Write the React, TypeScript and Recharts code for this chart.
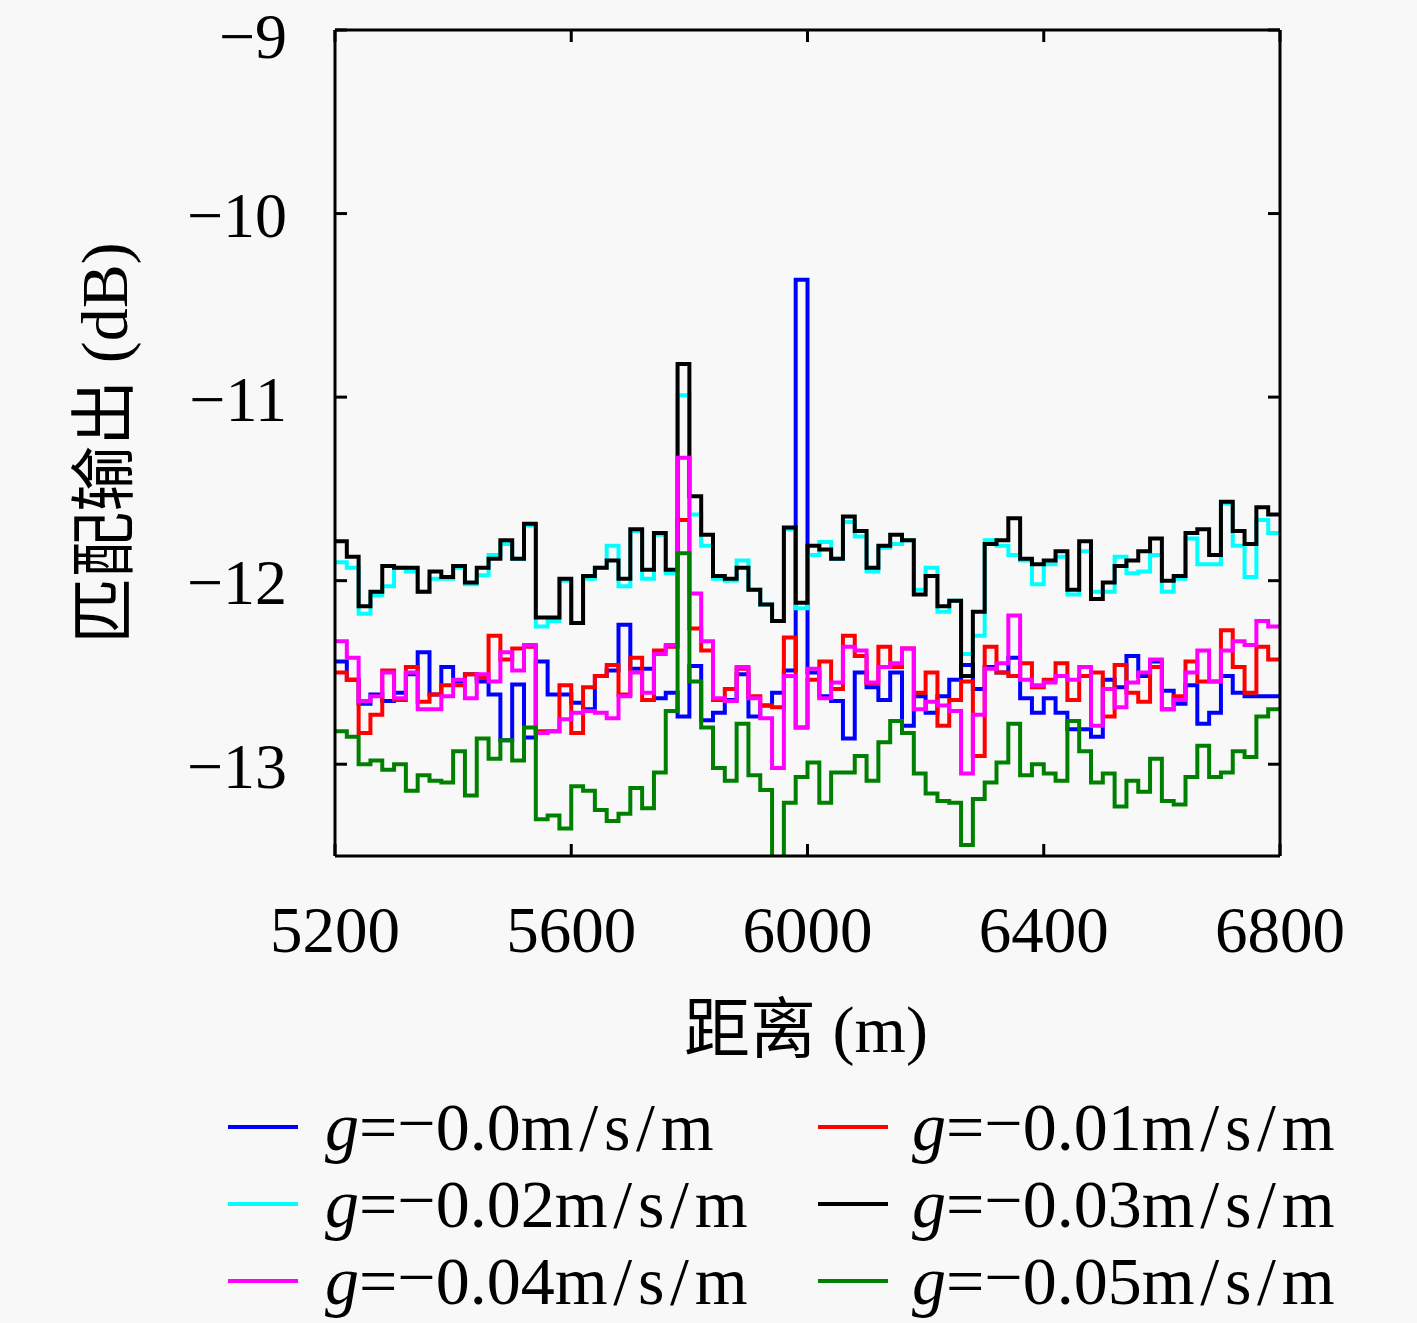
import { LineChart, Line, XAxis, YAxis } from "recharts";

// distance grid (m), one value per 20 m step
const DIST = [
  5200, 5220, 5240, 5260, 5280, 5300, 5320, 5340, 5360, 5380, 5400, 5420, 5440, 5460, 5480, 5500, 5520,
  5540, 5560, 5580, 5600, 5620, 5640, 5660, 5680, 5700, 5720, 5740, 5760, 5780, 5800, 5820, 5840, 5860,
  5880, 5900, 5920, 5940, 5960, 5980, 6000, 6020, 6040, 6060, 6080, 6100, 6120, 6140, 6160, 6180, 6200,
  6220, 6240, 6260, 6280, 6300, 6320, 6340, 6360, 6380, 6400, 6420, 6440, 6460, 6480, 6500, 6520, 6540,
  6560, 6580, 6600, 6620, 6640, 6660, 6680, 6700, 6720, 6740, 6760, 6780, 6800,
];

const G000 = [
  -12.44, -12.54, -12.67, -12.62, -12.655, -12.61, -12.51, -12.39, -12.62, -12.47, -12.55, -12.51, -12.55,
  -12.62, -12.87, -12.565, -12.855, -12.44, -12.62, -12.62, -12.665, -12.7, -12.52, -12.49, -12.24, -12.48,
  -12.48, -12.64, -12.61, -12.74, -12.465, -12.76, -12.72, -12.65, -12.51, -12.74, -12.68, -12.61, -12.49,
  -10.36, -12.5, -12.63, -12.655, -12.86, -12.5, -12.58, -12.65, -12.5, -12.79, -12.63, -12.72, -12.63,
  -12.54, -12.46, -12.59, -12.47, -12.5, -12.42, -12.64, -12.72, -12.64, -12.72, -12.81, -12.81, -12.85,
  -12.54, -12.58, -12.41, -12.52, -12.44, -12.6, -12.67, -12.57, -12.78, -12.72, -12.52, -12.61, -12.63,
  -12.63, -12.63, -12.63,
];

const G001 = [
  -12.5, -12.54, -12.83, -12.73, -12.49, -12.65, -12.47, -12.66, -12.62, -12.57, -12.57, -12.51, -12.53,
  -12.3, -12.43, -12.37, -12.36, -12.82, -12.82, -12.57, -12.83, -12.58, -12.52, -12.46, -12.62, -12.42,
  -12.65, -12.38, -12.36, -11.67, -12.26, -12.38, -12.65, -12.59, -12.48, -12.63, -12.68, -12.69, -12.31,
  -12.8, -12.54, -12.44, -12.59, -12.3, -12.41, -12.56, -12.36, -12.47, -12.37, -12.61, -12.5, -12.79,
  -12.65, -12.55, -12.955, -12.36, -12.5, -12.52, -12.45, -12.58, -12.54, -12.45, -12.65, -12.52, -12.5,
  -12.74, -12.46, -12.61, -12.66, -12.47, -12.7, -12.63, -12.44, -12.55, -12.55, -12.27, -12.47, -12.61,
  -12.36, -12.43, -12.43,
];

const G002 = [
  -11.9, -11.93, -12.18, -12.08, -12.03, -11.93, -11.95, -12.06, -11.99, -11.99, -11.93, -12.02, -11.97,
  -11.86, -11.8, -11.88, -11.7, -12.25, -12.22, -12.0, -12.23, -11.99, -11.93, -11.81, -12.03, -11.73,
  -11.99, -11.75, -11.96, -10.99, -11.64, -11.81, -11.99, -12.0, -11.89, -12.05, -12.13, -12.22, -11.72,
  -12.15, -11.86, -11.79, -11.88, -11.68, -11.76, -11.95, -11.82, -11.8, -11.78, -12.05, -11.93, -12.17,
  -12.11, -12.4, -12.3, -11.78, -11.81, -11.86, -11.89, -12.02, -11.91, -11.87, -12.075, -11.84, -12.06,
  -12.06, -11.87, -11.96, -11.95, -11.86, -12.06, -11.99, -11.77, -11.91, -11.91, -11.58, -11.81, -11.98,
  -11.67, -11.74, -11.74,
];

const G003 = [
  -11.785, -11.87, -12.14, -12.06, -11.92, -11.93, -11.93, -12.06, -11.95, -11.98, -11.92, -12.01, -11.93,
  -11.88, -11.78, -11.88, -11.69, -12.2, -12.2, -11.99, -12.23, -11.975, -11.93, -11.89, -11.99, -11.72,
  -11.94, -11.74, -11.94, -10.82, -11.54, -11.75, -11.975, -11.99, -11.93, -12.05, -12.13, -12.22, -11.71,
  -12.12, -11.81, -11.83, -11.88, -11.65, -11.73, -11.93, -11.81, -11.75, -11.78, -12.075, -11.975, -12.14,
  -12.11, -12.52, -12.17, -11.8, -11.78, -11.66, -11.88, -11.91, -11.89, -11.84, -12.05, -11.785, -12.1,
  -12.01, -11.92, -11.89, -11.84, -11.77, -12.0, -11.975, -11.74, -11.72, -11.86, -11.57, -11.73, -11.8,
  -11.6, -11.64, -11.64,
];

const G004 = [
  -12.33, -12.42, -12.655, -12.63, -12.5, -12.64, -12.5, -12.7, -12.7, -12.63, -12.54, -12.64, -12.51,
  -12.55, -12.39, -12.49, -12.35, -12.83, -12.82, -12.755, -12.72, -12.71, -12.72, -12.75, -12.63, -12.5,
  -12.61, -12.4, -12.35, -11.33, -12.07, -12.33, -12.64, -12.655, -12.47, -12.64, -12.75, -13.02, -12.52,
  -12.8, -12.48, -12.64, -12.555, -12.36, -12.38, -12.555, -12.47, -12.45, -12.37, -12.7, -12.66, -12.68,
  -12.71, -13.05, -12.73, -12.48, -12.45, -12.19, -12.54, -12.57, -12.555, -12.52, -12.54, -12.47, -12.79,
  -12.59, -12.69, -12.555, -12.5, -12.43, -12.7, -12.65, -12.5, -12.38, -12.55, -12.38, -12.33, -12.35,
  -12.22, -12.25, -12.25,
];

const G005 = [
  -12.82, -12.85, -13.0, -12.98, -13.03, -13.0, -13.145, -13.06, -13.09, -13.1, -12.93, -13.17, -12.86,
  -12.97, -12.87, -12.98, -12.8, -13.3, -13.28, -13.35, -13.12, -13.145, -13.25, -13.31, -13.27, -13.13,
  -13.24, -13.045, -12.71, -11.85, -12.55, -12.8, -13.02, -13.09, -12.78, -13.06, -13.14, -13.65, -13.21,
  -13.07, -12.99, -13.21, -13.045, -13.045, -12.955, -13.09, -12.88, -12.765, -12.83, -13.05, -13.16, -13.2,
  -13.21, -13.44, -13.19, -13.1, -12.99, -12.78, -13.06, -13.0, -13.05, -13.09, -12.765, -12.93, -13.1,
  -13.05, -13.23, -13.09, -13.15, -12.97, -13.2, -13.22, -13.07, -12.9, -13.07, -13.045, -12.93, -12.96,
  -12.74, -12.7, -12.7,
];

const X_TICKS = [5200, 5600, 6000, 6400, 6800];
const Y_TICKS = [-13, -12, -11, -10, -9];

const SERIES = [
  { key: "g0", label: "0.0", color: "#0000ff", values: G000 },
  { key: "g1", label: "0.01", color: "#ff0000", values: G001 },
  { key: "g2", label: "0.02", color: "#00ffff", values: G002 },
  { key: "g3", label: "0.03", color: "#000000", values: G003 },
  { key: "g4", label: "0.04", color: "#ff00ff", values: G004 },
  { key: "g5", label: "0.05", color: "#008000", values: G005 },
];

const data = DIST.map((x, i) => {
  const row: Record<string, number> = { x };
  SERIES.forEach((s) => (row[s.key] = s.values[i]));
  return row;
});

const FONT = '"Liberation Serif", "DejaVu Serif", "Noto Sans CJK SC", serif';
const minus = (v: number) => String(v).replace("-", "\u2212");
const HAIR = "\u200a";

const BottomTick = ({ x, y, payload }: any) => (
  <g>
    <line x1={x} x2={x} y1={y} y2={y - 12} stroke="#000" strokeWidth={3} />
    <text x={x} y={y + 74} textAnchor="middle" dominantBaseline="central" fontFamily={FONT} fontSize={65} fill="#000">
      {payload.value}
    </text>
  </g>
);

const TopTick = ({ x, y }: any) => <line x1={x} x2={x} y1={y} y2={y + 12} stroke="#000" strokeWidth={3} />;

const LeftTick = ({ x, y, payload }: any) => (
  <g>
    <line x1={x} x2={x + 12} y1={y} y2={y} stroke="#000" strokeWidth={3} />
    {/* the top label sits against the page edge, nudge it down a little */}
    <text
      x={x - 48}
      y={payload.value === -9 ? y + 6 : y + 2}
      textAnchor="end"
      dominantBaseline="central"
      fontFamily={FONT}
      fontSize={64}
      fill="#000"
    >
      {minus(payload.value)}
    </text>
  </g>
);

const RightTick = ({ x, y }: any) => <line x1={x} x2={x - 12} y1={y} y2={y} stroke="#000" strokeWidth={3} />;

const axisLine = { stroke: "#000", strokeWidth: 3 };

export default function App() {
  return (
    <div style={{ position: "relative", width: 1417, height: 1323, background: "#f8f8f8", fontFamily: FONT }}>
      <style>{`body{margin:0}`}</style>
      <LineChart width={1417} height={1000} data={data} margin={{ top: 29, right: 136, left: 0, bottom: 44 }}>
        <XAxis
          xAxisId="b"
          dataKey="x"
          type="number"
          domain={[5200, 6800]}
          ticks={X_TICKS}
          height={100}
          tickSize={0}
          tickMargin={0}
          axisLine={axisLine}
          tick={<BottomTick />}
        />
        <XAxis
          xAxisId="t"
          dataKey="x"
          type="number"
          orientation="top"
          domain={[5200, 6800]}
          ticks={X_TICKS}
          height={1}
          tickSize={0}
          tickMargin={0}
          axisLine={axisLine}
          tick={<TopTick />}
        />
        <YAxis
          yAxisId="l"
          type="number"
          domain={[-13.5, -9]}
          ticks={Y_TICKS}
          allowDataOverflow
          width={335}
          tickSize={0}
          tickMargin={0}
          axisLine={axisLine}
          tick={<LeftTick />}
        />
        <YAxis
          yAxisId="r"
          type="number"
          orientation="right"
          domain={[-13.5, -9]}
          ticks={Y_TICKS}
          allowDataOverflow
          width={1}
          tickSize={0}
          tickMargin={0}
          axisLine={axisLine}
          tick={<RightTick />}
        />
        {SERIES.map((s) => (
          <Line
            key={s.key}
            xAxisId="b"
            yAxisId="l"
            type="stepAfter"
            dataKey={s.key}
            stroke={s.color}
            strokeWidth={4}
            dot={false}
            isAnimationActive={false}
          />
        ))}
        {/* invisible series bound to the mirror axes so they are drawn */}
        <Line
          xAxisId="t"
          yAxisId="r"
          dataKey="g3"
          stroke="none"
          dot={false}
          activeDot={false}
          legendType="none"
          isAnimationActive={false}
        />
      </LineChart>

      <div
        style={{
          position: "absolute",
          left: 105,
          top: 443,
          transform: "translate(-50%, -50%) rotate(-90deg)",
          fontSize: 66,
          whiteSpace: "nowrap",
          lineHeight: 1,
        }}
      >
        匹配输出 (dB)
      </div>
      <div
        style={{
          position: "absolute",
          left: 806,
          top: 1030,
          transform: "translate(-50%, -50%)",
          fontSize: 66,
          whiteSpace: "nowrap",
          lineHeight: 1,
        }}
      >
        距离 (m)
      </div>

      {SERIES.map((s, i) => {
        const col = i % 2;
        const row = Math.floor(i / 2);
        const cy = 1127 + row * 77;
        const lx = col === 0 ? 228 : 818;
        const tx = col === 0 ? 325 : 912;
        return (
          <div key={s.key}>
            <div style={{ position: "absolute", left: lx, top: cy - 2, width: 70, height: 4, background: s.color }} />
            <div
              style={{
                position: "absolute",
                left: tx,
                top: cy,
                transform: "translateY(-50%)",
                fontSize: 68,
                lineHeight: 1,
                whiteSpace: "nowrap",
              }}
            >
              <i>g</i>=<span style={{ position: "relative", top: "-0.06em" }}>{"\u2212"}</span>
              {s.label}m{HAIR}/{HAIR}s{HAIR}/{HAIR}m
            </div>
          </div>
        );
      })}
    </div>
  );
}
